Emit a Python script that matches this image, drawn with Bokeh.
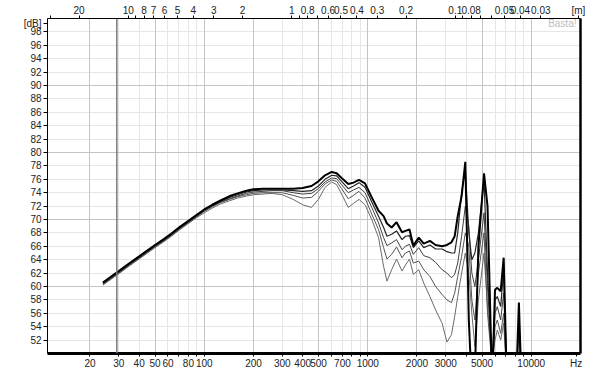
from bokeh.plotting import figure
from bokeh.models import (FixedTicker, LogAxis, LinearAxis, Grid, Span, Label,
                          CustomJSTickFormatter)
from bokeh.embed import file_html
from bokeh.resources import INLINE

# ---------------- data ----------------
freq = [24, 30, 35, 40, 45, 50, 56, 63, 71, 80,
        90, 100, 112, 125, 143, 160, 181, 200, 229, 260,
        300, 350, 400, 453, 499, 548, 602, 645, 692, 760,
        818, 884, 962, 1058, 1164, 1250, 1310, 1400, 1500, 1620,
        1700, 1800, 1900, 2050, 2200, 2400, 2600, 2850, 3050, 3250,
        3400, 3550, 3750, 3950, 4150, 4330, 4520, 4750, 5140, 5400,
        5770, 6000, 6200, 6500, 6780, 7100, 7600, 8000, 8400, 8800]

spl_1 = [60.6, 62.3, 63.5, 64.5, 65.4, 66.2, 67.0, 67.9, 68.9, 69.8,
         70.7, 71.5, 72.2, 72.8, 73.5, 73.9, 74.3, 74.5, 74.6, 74.6,
         74.6, 74.6, 74.7, 75.0, 75.7, 76.6, 77.1, 76.9, 76.2, 75.3,
         75.5, 75.9, 75.4, 73.3, 71.3, 70.5, 69.4, 68.8, 69.6, 68.1,
         68.3, 68.5, 66.1, 67.3, 66.4, 66.8, 66.2, 66.0, 66.2, 66.6,
         67.5, 70.5, 73.5, 78.6, 55.0, 45.0, 47.0, 66.0, 76.9, 72.0,
         45.0, 59.5, 59.8, 59.3, 64.3, 45.0, 42.0, 42.0, 57.6, 42.0]
spl_2 = [60.5, 62.2, 63.4, 64.4, 65.3, 66.1, 66.9, 67.8, 68.8, 69.7,
         70.6, 71.4, 72.1, 72.7, 73.3, 73.7, 74.1, 74.3, 74.4, 74.4,
         74.4, 74.3, 74.2, 74.3, 75.0, 76.0, 76.6, 76.5, 75.7, 74.6,
         75.0, 75.5, 74.8, 72.6, 70.5, 68.8, 67.5, 67.8, 68.3, 67.0,
         67.5, 67.6, 65.8, 66.8, 65.8, 66.2, 65.6, 65.6, 65.2, 65.0,
         65.0, 68.0, 74.0, 77.5, 68.0, 64.0, 65.0, 68.0, 76.0, 62.0,
         48.0, 58.0, 58.5, 57.0, 62.5, 46.0, 42.0, 42.0, 54.0, 42.0]
spl_3 = [60.4, 62.1, 63.3, 64.3, 65.2, 66.0, 66.8, 67.7, 68.7, 69.6,
         70.5, 71.3, 72.0, 72.6, 73.1, 73.5, 73.9, 74.1, 74.2, 74.3,
         74.3, 74.0, 73.8, 73.9, 74.6, 75.6, 76.2, 76.1, 75.2, 74.0,
         74.4, 74.8, 74.0, 71.8, 69.5, 67.3, 66.1, 66.5, 67.0, 65.5,
         66.0, 66.3, 64.8, 65.8, 64.6, 64.3, 63.6, 62.5, 62.0, 61.3,
         61.8, 63.5, 67.5, 72.0, 69.0, 62.0, 60.0, 64.0, 71.0, 60.0,
         48.0, 56.0, 57.0, 55.0, 59.0, 46.0, 42.0, 42.0, 44.0, 42.0]
spl_4 = [60.3, 62.0, 63.2, 64.2, 65.1, 65.9, 66.7, 67.6, 68.6, 69.5,
         70.4, 71.2, 71.9, 72.5, 73.0, 73.4, 73.7, 73.9, 74.0, 74.0,
         74.0, 73.6, 73.2, 73.3, 74.2, 75.3, 75.9, 75.7, 74.6, 73.1,
         73.6, 74.2, 73.2, 70.8, 68.5, 65.8, 64.1, 64.8, 65.9, 64.3,
         65.0, 65.3, 63.5, 63.8, 62.5, 61.5, 60.0, 58.8, 58.0, 57.6,
         59.0, 61.5, 64.5, 68.0, 66.0, 58.0, 55.0, 62.0, 68.0, 56.0,
         48.0, 54.0, 55.0, 53.0, 56.0, 46.0, 42.0, 42.0, 44.0, 42.0]
spl_5 = [60.2, 61.9, 63.1, 64.1, 65.0, 65.8, 66.6, 67.5, 68.5, 69.4,
         70.3, 71.0, 71.7, 72.3, 72.8, 73.2, 73.5, 73.7, 73.8, 73.9,
         73.7, 73.0, 72.2, 71.8, 73.0, 74.8, 75.6, 75.2, 73.8, 71.8,
         72.4, 73.0, 72.2, 70.0, 67.3, 63.0, 60.8, 62.5, 64.1, 62.3,
         63.2, 64.1, 61.8, 62.5, 60.5, 58.5, 56.5, 54.5, 51.7, 52.8,
         55.5, 58.5, 62.0, 65.0, 62.0, 56.0, 51.0, 58.0, 65.0, 57.0,
         49.0, 52.0, 53.5, 52.0, 54.5, 46.0, 42.0, 42.0, 44.0, 42.0]

freq_labeled = [20, 30, 40, 50, 60, 80, 100, 200, 300, 400, 500, 700, 1000, 2000,
                3000, 5000, 10000, 18800]          # last one carries the "Hz" unit
freq_minor = [70, 90, 600, 800, 900, 4000, 6000, 7000, 8000, 9000]
wl_labeled = [20, 10, 8, 7, 6, 5, 4, 3, 2, 1, 0.8, 0.6, 0.5, 0.4, 0.3, 0.2, 0.1, 0.08,
              0.05, 0.04, 0.03]
wl_minor = [30, 9, 0.9, 0.7, 0.09, 0.07, 0.06]
wl_unit_freq = 19400                               # position of the "[m]" unit
db_ticks = list(range(52, 100, 2)) + [99.2]        # 99.2 carries the "[dB]" unit
grid_f_major = [20, 50, 100, 200, 500, 1000, 2000, 5000, 10000]
grid_f_minor = [30, 40, 60, 70, 80, 90, 300, 400, 600, 700, 800, 900, 3000, 4000,
                6000, 7000, 8000, 9000]
grid_db_major = [60, 70, 80, 90]
grid_db_minor = [d for d in range(52, 100, 2) if d not in grid_db_major]
sound_speed = 343.0
marker_freq = 29.2

FONT = "Liberation Sans"
FS = "10px"
TXT = "#222222"

p = figure(width=600, height=376, x_axis_type="log", x_range=(11, 20000),
           y_range=(50, 100), output_backend="svg", toolbar_location=None,
           min_border_left=47, min_border_right=20, min_border_top=18,
           min_border_bottom=23)
p.outline_line_color = None
p.xgrid.visible = False
p.ygrid.visible = False

# grids
for ticks, col, dim in [(grid_f_minor, "#e6e6e6", 0), (grid_db_minor, "#e6e6e6", 1),
                        (grid_f_major, "#c4c4c4", 0), (grid_db_major, "#c4c4c4", 1)]:
    p.add_layout(Grid(dimension=dim, ticker=FixedTicker(ticks=ticks),
                      grid_line_color=col, grid_line_width=1))

p.add_layout(Span(location=marker_freq, dimension="height", line_color="#7a7a7a",
                  line_width=1.5))

# curves
styles = [(spl_5, "#6a6a6a", 1), (spl_4, "#555555", 1), (spl_3, "#404040", 1),
          (spl_2, "#262626", 1.2), (spl_1, "#000000", 2)]
for ys, col, w in styles:
    p.line(freq, ys, line_color=col, line_width=w)

# bottom axis
xa = p.xaxis[0]
xa.ticker = FixedTicker(ticks=freq_labeled, minor_ticks=freq_minor)
xa.formatter = CustomJSTickFormatter(
    code="if (tick > 15000) { return 'Hz'; } return tick.toFixed(0);")
xa.axis_line_width = 3
xa.axis_line_color = "black"
xa.major_tick_out = 3
xa.major_tick_in = 0
xa.minor_tick_out = 3
xa.minor_tick_in = 0
xa.major_label_standoff = 1
xa.major_label_text_font = FONT
xa.major_label_text_font_size = FS
xa.major_label_text_color = TXT

# left axis
ya = p.yaxis[0]
ya.ticker = FixedTicker(ticks=db_ticks)
ya.formatter = CustomJSTickFormatter(
    code="if (tick > 99) { return '[dB]'; } return tick.toFixed(0);")
ya.axis_line_color = "black"
ya.axis_line_width = 1
ya.major_tick_out = 4
ya.major_tick_in = 0
ya.minor_tick_out = 0
ya.minor_tick_in = 0
ya.major_label_standoff = 2
ya.major_label_text_font = FONT
ya.major_label_text_font_size = FS
ya.major_label_text_color = TXT

# top axis (wavelength)
top_ticks = [sound_speed / w for w in wl_labeled] + [wl_unit_freq]
top = LogAxis(ticker=FixedTicker(ticks=top_ticks,
                                 minor_ticks=[sound_speed / w for w in wl_minor]),
              formatter=CustomJSTickFormatter(
                  code="if (tick > 15000) { return '[m]'; } "
                       "const v = 343/tick; return String(parseFloat(v.toPrecision(2)));"),
              axis_line_color="black", axis_line_width=1,
              major_tick_out=3, major_tick_in=0, minor_tick_out=3, minor_tick_in=0,
              major_label_standoff=0, major_label_text_font=FONT,
              major_label_text_font_size=FS, major_label_text_color=TXT)
p.add_layout(top, "above")

# right border
ra = LinearAxis(ticker=FixedTicker(ticks=[]), axis_line_color="black",
                axis_line_width=2.5, major_tick_out=0, major_tick_in=0,
                minor_tick_out=0, minor_tick_in=0, major_label_text_font_size="0px")
p.add_layout(ra, "right")

# watermark
p.add_layout(Label(x=18900, y=99.2, text="Basta!", text_align="right",
                   text_baseline="middle", text_font=FONT, text_font_size="10px",
                   text_color="#bdbdbd"))

open("out.html", "w").write(file_html(p, INLINE))
